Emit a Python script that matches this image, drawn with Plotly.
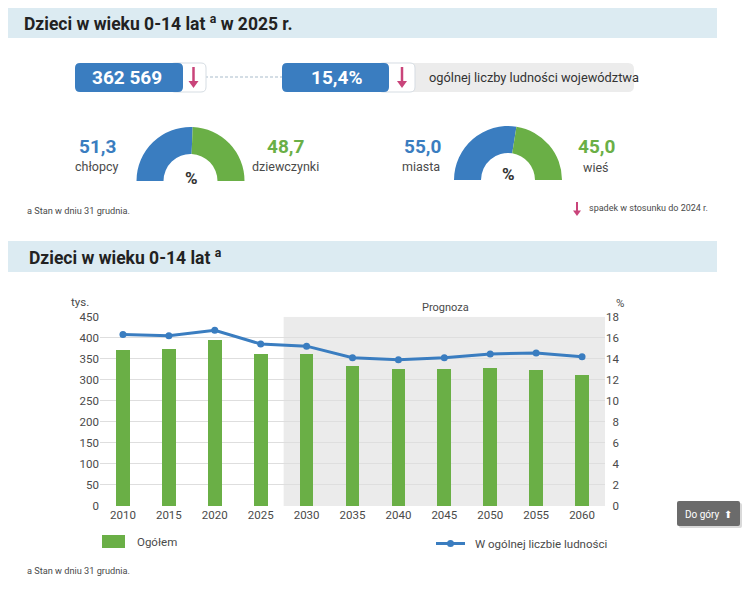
import plotly.graph_objects as go

# ---------------- data ----------------
years = [2010, 2015, 2020, 2025, 2030, 2035, 2040, 2045, 2050, 2055, 2060]
total_thousands = [372, 374, 396, 362.569, 362, 334, 327, 327, 329, 325, 311]
share_pct = [16.3, 16.2, 16.7, 15.4, 15.2, 14.1, 13.9, 14.1, 14.45, 14.55, 14.2]

kpi_total = "362 569"
kpi_share = "15,4%"
sex_labels = ["chłopcy", "dziewczynki"]
sex_values = [51.3, 48.7]
place_labels = ["miasta", "wieś"]
place_values = [55.0, 45.0]

left_ticks = [0, 50, 100, 150, 200, 250, 300, 350, 400, 450]
right_ticks = [0, 2, 4, 6, 8, 10, 12, 14, 16, 18]

# ---------------- style ----------------
W, H = 750, 589
FONT = "Roboto, Liberation Sans, sans-serif"
BLUE = "#3a7dc0"
GREEN = "#6aaf46"
PINK = "#c9447a"
BAND = "#dcebf2"
TXT = "#333333"
GREYTXT = "#4a4a4a"


def px(x):
    return x / W


def py(y):
    return 1 - y / H


def rrect(x0, y0, x1, y1, r):
    """rounded rectangle path in paper coords from pixel coords"""
    pts = [
        ("M", x0 + r, y0), ("L", x1 - r, y0), ("Q", x1, y0, x1, y0 + r),
        ("L", x1, y1 - r), ("Q", x1, y1, x1 - r, y1), ("L", x0 + r, y1),
        ("Q", x0, y1, x0, y1 - r), ("L", x0, y0 + r), ("Q", x0, y0, x0 + r, y0),
    ]
    s = ""
    for p in pts:
        cmd = p[0]
        coords = p[1:]
        parts = []
        for i in range(0, len(coords), 2):
            parts.append(f"{px(coords[i]):.5f},{py(coords[i+1]):.5f}")
        s += cmd + " ".join(parts) + " "
    return s + "Z"


shapes = []
annotations = []


def rect(x0, y0, x1, y1, color, layer="below"):
    shapes.append(dict(type="rect", xref="paper", yref="paper",
                       x0=px(x0), x1=px(x1), y0=py(y1), y1=py(y0),
                       fillcolor=color, line=dict(width=0), layer=layer))


def text(x, y, s, size, color=TXT, xanchor="left", bold=False):
    if bold:
        s = f"<b>{s}</b>"
    annotations.append(dict(xref="paper", yref="paper", x=px(x), y=py(y),
                            text=s, showarrow=False, xanchor=xanchor,
                            yanchor="middle",
                            font=dict(family=FONT, size=size, color=color)))


def arrow(x, y0, y1, w=2.5, head=5):
    shapes.append(dict(type="line", xref="paper", yref="paper",
                       x0=px(x), x1=px(x), y0=py(y0), y1=py(y1 - head + 1),
                       line=dict(color=PINK, width=w), layer="above"))
    path = (f"M{px(x-head):.5f},{py(y1-head*1.4):.5f} L{px(x+head):.5f},{py(y1-head*1.4):.5f} "
            f"L{px(x):.5f},{py(y1):.5f} Z")
    shapes.append(dict(type="path", xref="paper", yref="paper", path=path,
                       fillcolor=PINK, line=dict(width=0), layer="above"))


# header bands
rect(8, 8, 717, 38, BAND)
rect(8, 241, 717, 272, BAND)
text(22, 23.5, "Dzieci w wieku 0-14 lat <sup>a</sup> w 2025 r.", 17.5, "#222222", bold=True)
text(27, 257, "Dzieci w wieku 0-14 lat <sup>a</sup>", 17.5, "#222222", bold=True)

# KPI row
shapes.append(dict(type="line", xref="paper", yref="paper", x0=px(205), x1=px(282),
                   y0=py(77), y1=py(77), line=dict(color="#a9bccb", width=1, dash="3px,2px")))
shapes.append(dict(type="path", xref="paper", yref="paper", path=rrect(170, 63, 206, 92, 5),
                   fillcolor="white", line=dict(color="#d6dde3", width=1)))
shapes.append(dict(type="path", xref="paper", yref="paper", path=rrect(75, 63, 183, 92, 5),
                   fillcolor=BLUE, line=dict(width=0)))
shapes.append(dict(type="path", xref="paper", yref="paper", path=rrect(405, 63, 634, 92, 6),
                   fillcolor="#ececec", line=dict(width=0)))
shapes.append(dict(type="path", xref="paper", yref="paper", path=rrect(378, 63, 415, 92, 5),
                   fillcolor="white", line=dict(color="#d6dde3", width=1)))
shapes.append(dict(type="path", xref="paper", yref="paper", path=rrect(282, 63, 389, 92, 5),
                   fillcolor=BLUE, line=dict(width=0)))
text(127, 77.5, kpi_total, 19, "white", xanchor="center", bold=True)
text(336, 77.5, kpi_share, 19, "white", xanchor="center", bold=True)
text(427, 77.5, "ogólnej liczby ludności województwa", 12.8, TXT)
arrow(193.5, 67, 88)
arrow(402, 67, 88)

# donut texts
text(97, 146, f"{sex_values[0]:.1f}".replace(".", ","), 19, BLUE, xanchor="center", bold=True)
text(97, 166, sex_labels[0], 12.5, GREYTXT, xanchor="center")
text(285, 146, f"{sex_values[1]:.1f}".replace(".", ","), 19, GREEN, xanchor="center", bold=True)
text(285, 166, sex_labels[1], 12.5, GREYTXT, xanchor="center")
text(191, 178, "%", 17, TXT, xanchor="center", bold=True)

text(422, 146, f"{place_values[0]:.1f}".replace(".", ","), 19, BLUE, xanchor="center", bold=True)
text(421, 166, place_labels[0], 12.5, GREYTXT, xanchor="center")
text(596, 146, f"{place_values[1]:.1f}".replace(".", ","), 19, GREEN, xanchor="center", bold=True)
text(596, 167, place_labels[1], 12.5, GREYTXT, xanchor="center")
text(508, 174, "%", 17, TXT, xanchor="center", bold=True)

# footnotes
text(25, 210, "a Stan w dniu 31 grudnia.", 9.2, GREYTXT)
arrow(577, 202, 216, w=2, head=4)
text(587, 208.5, "spadek w stosunku do 2024 r.", 9, GREYTXT)
text(25, 570.5, "a Stan w dniu 31 grudnia.", 9.2, GREYTXT)

# chart extras
text(91, 302, "tys.", 11.5, GREYTXT, xanchor="right")
text(626, 303, "%", 11.5, GREYTXT, xanchor="right")
text(445.5, 307, "Prognoza", 11, GREYTXT, xanchor="center")
shapes.append(dict(type="rect", xref="x", yref="y", x0=2027.5, x1=2062.5, y0=0, y1=450,
                   fillcolor="#ebebeb", line=dict(width=0), layer="below"))

# legend
rect(102, 535, 125, 548, GREEN, layer="above")
text(135, 541.5, "Ogółem", 11.5, GREYTXT)
shapes.append(dict(type="line", xref="paper", yref="paper", x0=px(436), x1=px(465),
                   y0=py(543.5), y1=py(543.5), line=dict(color=BLUE, width=3), layer="above"))
shapes.append(dict(type="circle", xref="paper", yref="paper", x0=px(447), x1=px(454),
                   y0=py(547), y1=py(540), fillcolor=BLUE, line=dict(width=0), layer="above"))
text(473, 543.5, "W ogólnej liczbie ludności", 11.5, GREYTXT)

# "Do góry" button
shapes.append(dict(type="path", xref="paper", yref="paper", path=rrect(679, 503, 742, 528, 2),
                   fillcolor="#d9d9d9", line=dict(width=0), layer="above"))
shapes.append(dict(type="path", xref="paper", yref="paper", path=rrect(677, 501, 740, 526, 2),
                   fillcolor="#6b6b6b", line=dict(width=0), layer="above"))
text(708.5, 514, "Do góry  ⬆", 10, "white", xanchor="center")

fig = go.Figure()

# donuts (half pies; third slice hidden)
fig.add_trace(go.Pie(values=sex_values + [sum(sex_values)], sort=False, direction="clockwise",
                     rotation=270, hole=0.5, textinfo="none", hoverinfo="skip",
                     marker=dict(colors=[BLUE, GREEN, "rgba(0,0,0,0)"], line=dict(width=0)),
                     domain=dict(x=[px(136.5), px(244.5)], y=[py(235), py(127)]),
                     showlegend=False))
fig.add_trace(go.Pie(values=place_values + [sum(place_values)], sort=False, direction="clockwise",
                     rotation=270, hole=0.5, textinfo="none", hoverinfo="skip",
                     marker=dict(colors=[BLUE, GREEN, "rgba(0,0,0,0)"], line=dict(width=0)),
                     domain=dict(x=[px(454), px(562)], y=[py(234), py(126)]),
                     showlegend=False))

fig.add_trace(go.Bar(x=years, y=total_thousands, width=1.5, marker=dict(color=GREEN, line=dict(width=0)),
                     name="Ogółem", showlegend=False, yaxis="y"))
fig.add_trace(go.Scatter(x=years, y=share_pct, mode="lines+markers", yaxis="y2",
                         line=dict(color=BLUE, width=3), marker=dict(size=7, color=BLUE),
                         name="W ogólnej liczbie ludności", showlegend=False))

fig.update_layout(
    width=W, height=H,
    margin=dict(l=0, r=0, t=0, b=0),
    paper_bgcolor="white", plot_bgcolor="white",
    font=dict(family=FONT, size=12, color=GREYTXT),
    shapes=shapes, annotations=annotations,
    showlegend=False,
    xaxis=dict(domain=[px(100), px(605)], range=[2007.5, 2062.5], tickvals=years,
               showgrid=False, zeroline=False, showline=False, ticks="",
               tickfont=dict(size=11.5, color=GREYTXT), automargin=False, fixedrange=True),
    yaxis=dict(domain=[py(506), py(316.7)], range=[0, 450], tickvals=left_ticks,
               showgrid=True, gridcolor="#dedede", gridwidth=1, zeroline=False, showline=False,
               ticks="", tickfont=dict(size=11.5, color=GREYTXT), automargin=False, fixedrange=True),
    yaxis2=dict(overlaying="y", side="right", range=[0, 18], tickvals=right_ticks,
                ticktext=[("\u2007" + str(v)) if v < 10 else str(v) for v in right_ticks],
                showgrid=False, zeroline=False, showline=False, ticks="",
                tickfont=dict(size=11.5, color=GREYTXT), automargin=False, fixedrange=True),
    bargap=0,
)

fig.write_html("out.html", config={"displayModeBar": False})
